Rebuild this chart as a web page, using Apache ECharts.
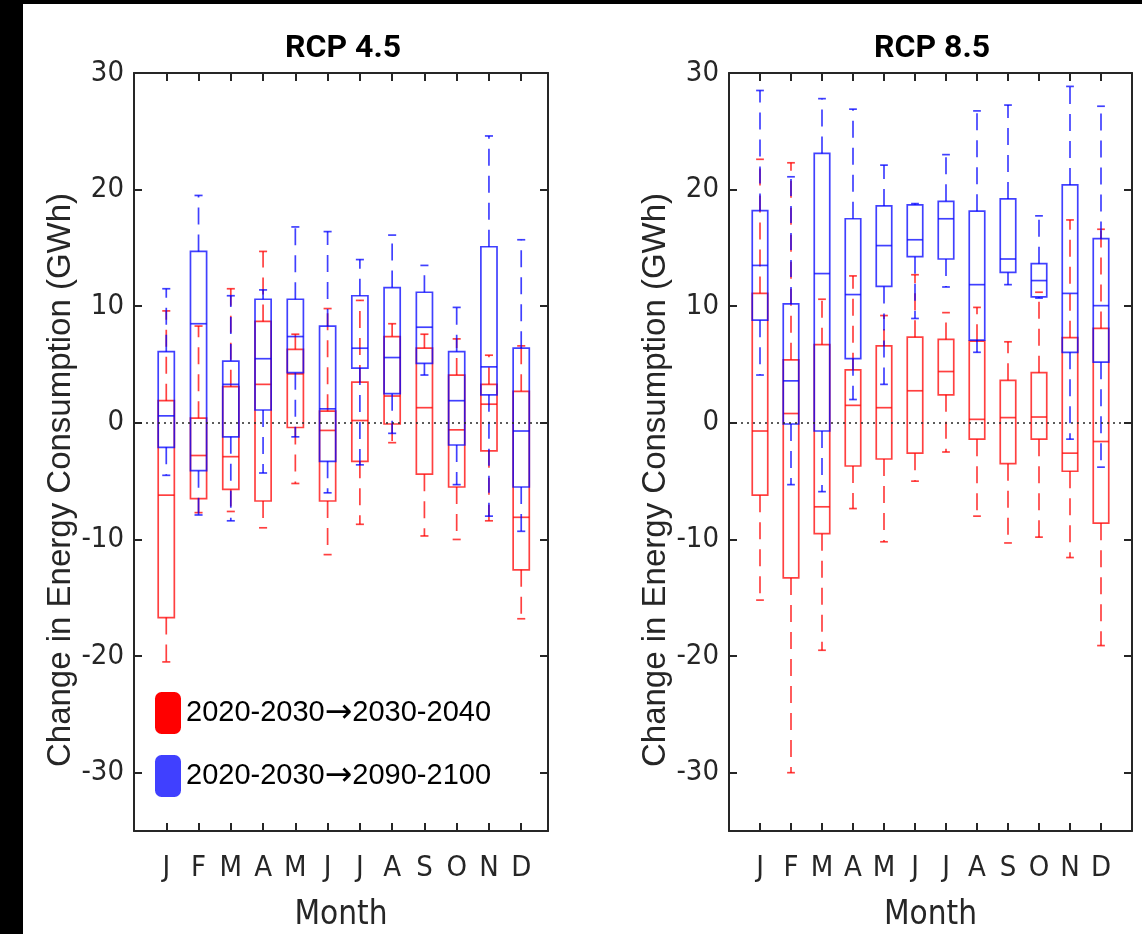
<!DOCTYPE html>
<html><head><meta charset="utf-8">
<script src="https://cdn.jsdelivr.net/npm/echarts@6/dist/echarts.min.js"></script>
<style>
html,body{margin:0;padding:0;background:#000;width:1142px;height:934px;overflow:hidden}
#c{position:absolute;left:23px;top:4px;width:1119px;height:930px;background:#fff}
</style></head><body><div id="c"></div>
<script>
// ---- data ----
const months = ['J','F','M','A','M','J','J','A','S','O','N','D'];
const monthPos = [1,2,3,4,5,6,7,8,9,10,11,12];
const yTicks = [-30,-20,-10,0,10,20,30];
const panelTitles = ['RCP 4.5','RCP 8.5'];
const seriesNames = ['2020-2030\u21922030-2040','2020-2030\u21922090-2100'];
// each entry: [lower whisker, Q1, median, Q3, upper whisker]
const rcp45Near = [
  [-20.5,-16.7,-6.2,1.9,9.6],[-7.7,-6.5,-2.8,0.4,8.3],[-7.6,-5.7,-2.9,3.1,11.5],
  [-9.0,-6.7,3.3,8.7,14.7],[-5.2,-0.4,4.2,6.3,7.6],[-11.3,-6.7,-0.65,1.0,9.8],
  [-8.7,-3.3,0.2,3.5,10.5],[-1.7,-0.1,2.3,7.4,8.5],[-9.7,-4.4,1.3,6.4,7.6],
  [-10.0,-5.5,-0.6,4.1,7.2],[-8.4,-2.4,1.6,3.3,5.8],[-16.8,-12.6,-8.1,2.7,6.6]
];
const rcp45Far = [
  [-4.5,-2.1,0.6,6.1,11.5],[-7.9,-4.1,8.5,14.7,19.5],[-8.4,-1.2,3.3,5.3,10.9],
  [-4.3,1.1,5.5,10.6,11.4],[-1.2,4.3,7.4,10.6,16.8],[-6.0,-3.3,1.2,8.3,16.4],
  [-3.6,4.7,6.4,10.9,14.0],[-0.9,2.5,5.6,11.6,16.1],[4.1,5.1,8.2,11.2,13.5],
  [-5.3,-1.9,1.9,6.1,9.9],[-8.0,2.4,4.8,15.1,24.6],[-9.3,-5.5,-0.7,6.4,15.7]
];
const rcp85Near = [
  [-15.2,-6.2,-0.7,11.1,22.6],[-30.0,-13.3,0.8,5.4,22.3],[-19.5,-9.5,-7.2,6.7,10.6],
  [-7.35,-3.7,1.5,4.55,12.6],[-10.2,-3.1,1.3,6.6,9.2],[-5.0,-2.6,2.75,7.35,12.7],
  [-2.5,2.4,4.4,7.15,9.45],[-8.0,-1.4,0.3,7.0,9.9],[-10.3,-3.5,0.45,3.65,6.95],
  [-9.8,-1.4,0.5,4.3,11.2],[-11.55,-4.15,-2.6,7.3,17.4],[-19.1,-8.6,-1.6,8.1,16.6]
];
const rcp85Far = [
  [4.1,8.8,13.5,18.2,28.5],[-5.3,-0.1,3.6,10.2,21.1],[-5.9,-0.7,12.8,23.1,27.8],
  [2.0,5.5,11.0,17.5,26.9],[3.3,11.7,15.2,18.6,22.1],[8.95,14.25,15.7,18.7,18.8],
  [11.65,14.05,17.5,19.0,23.0],[6.05,7.1,11.85,18.15,26.75],[11.85,12.9,14.05,19.2,27.25],
  [10.7,10.8,12.2,13.65,17.75],[-1.4,6.05,11.1,20.4,28.85],[-3.8,5.2,10.05,15.8,27.15]
];

// ---- styling ----
const NARROW = "'Liberation Sans Narrow','Arial Narrow','DejaVu Sans Condensed',sans-serif";
const SANS = "'Liberation Sans',Arial,sans-serif";
const AX = '#262626';
const RED = 'rgba(255,0,0,0.75)', BLUE = 'rgba(0,0,255,0.75)';
const BOX_W = 0.5, CAP_W = 0.25;
const grids = [
  {left:111, top:69, width:414, height:758, outerBoundsMode:'none', containLabel:false},
  {left:706, top:69, width:403, height:758, outerBoundsMode:'none', containLabel:false}
];
const xMax = [12.83, 13];

function renderBox(params, api) {
  const x = api.value(0);
  const pLo = api.coord([x, api.value(1)]);
  const pQ1 = api.coord([x, api.value(2)]);
  const pMd = api.coord([x, api.value(3)]);
  const pQ3 = api.coord([x, api.value(4)]);
  const pHi = api.coord([x, api.value(5)]);
  const half = api.size([BOX_W, 0])[0] / 2;
  const cap = api.size([CAP_W, 0])[0] / 2;
  const color = api.visual('color');
  const s = {stroke: color, lineWidth: 1.7, fill: null};
  const d = {stroke: color, lineWidth: 1.7, fill: null, lineDash: [17, 10]};
  const cx = pMd[0];
  return {type: 'group', children: [
    {type: 'line', shape: {x1: cx, y1: pQ3[1], x2: cx, y2: pHi[1]}, style: d},
    {type: 'line', shape: {x1: cx, y1: pQ1[1], x2: cx, y2: pLo[1]}, style: d},
    {type: 'line', shape: {x1: cx - cap, y1: pHi[1], x2: cx + cap, y2: pHi[1]}, style: s},
    {type: 'line', shape: {x1: cx - cap, y1: pLo[1], x2: cx + cap, y2: pLo[1]}, style: s},
    {type: 'rect', shape: {x: cx - half, y: pQ3[1], width: 2 * half, height: pQ1[1] - pQ3[1]}, style: s},
    {type: 'line', shape: {x1: cx - half, y1: pMd[1], x2: cx + half, y2: pMd[1]}, style: s}
  ]};
}

function toData(arr) { return arr.map((v, i) => [monthPos[i]].concat(v)); }

const xAxes = [], yAxes = [], series = [];
const panels = [[rcp45Near, rcp45Far], [rcp85Near, rcp85Far]];
const lineS = {color: AX, width: 2};
grids.forEach((g, gi) => {
  const tickBase = {show: true, inside: true, length: 8, lineStyle: {color: AX, width: 2}};
  xAxes.push({type: 'value', gridIndex: gi, min: 0, max: xMax[gi], position: 'bottom',
    axisLine: {show: true, onZero: false, lineStyle: lineS},
    axisTick: Object.assign({customValues: monthPos}, tickBase),
    axisLabel: {customValues: monthPos, formatter: v => months[v - 1] || '', margin: 23,
      fontFamily: NARROW, fontSize: 29, color: AX},
    splitLine: {show: false},
    name: 'Month', nameLocation: 'middle', nameGap: 68,
    nameTextStyle: {fontFamily: NARROW, fontSize: 33, color: AX}});
  xAxes.push({type: 'value', gridIndex: gi, min: 0, max: xMax[gi], position: 'top',
    axisLine: {show: true, onZero: false, lineStyle: lineS},
    axisTick: Object.assign({customValues: monthPos}, tickBase),
    axisLabel: {show: false}, splitLine: {show: false}});
  yAxes.push({type: 'value', gridIndex: gi, min: -35, max: 30, position: 'left',
    axisLine: {show: true, onZero: false, lineStyle: lineS},
    axisTick: Object.assign({customValues: yTicks}, tickBase),
    axisLabel: {customValues: yTicks, margin: 10, fontFamily: NARROW, fontSize: 29, color: AX},
    splitLine: {show: false},
    name: 'Change in Energy Consumption (GWh)', nameLocation: 'middle', nameGap: 53, nameRotate: 90,
    nameTextStyle: {fontFamily: SANS, fontSize: 33, color: AX, padding: [0, 56, 0, 0]}});
  yAxes.push({type: 'value', gridIndex: gi, min: -35, max: 30, position: 'right',
    axisLine: {show: true, onZero: false, lineStyle: lineS},
    axisTick: Object.assign({customValues: yTicks}, tickBase),
    axisLabel: {show: false}, splitLine: {show: false}});
  panels[gi].forEach((arr, si) => {
    const sr = {type: 'custom', name: seriesNames[si], xAxisIndex: gi * 2, yAxisIndex: gi * 2,
      itemStyle: {color: si === 0 ? RED : BLUE}, renderItem: renderBox, silent: true,
      encode: {x: 0, y: [1, 2, 3, 4, 5]}, data: toData(arr), z: 2 + si};
    if (si === 1) {
      sr.markLine = {silent: true, symbol: 'none', label: {show: false}, animation: false,
        lineStyle: {color: AX, type: [2, 4], width: 1.5}, data: [{yAxis: 0}]};
    }
    series.push(sr);
  });
});

const titleStyle = {fontFamily: "Roboto,'Liberation Sans',sans-serif", fontWeight: 'bold', fontSize: 32, color: '#000'};
const chart = echarts.init(document.getElementById('c'), null, {renderer: 'canvas'});
chart.setOption({
  animation: false,
  backgroundColor: '#fff',
  title: [
    {text: panelTitles[0], left: 262, top: 29, padding: 0, textStyle: titleStyle},
    {text: panelTitles[1], left: 851, top: 29, padding: 0, textStyle: titleStyle}
  ],
  legend: {orient: 'vertical', left: 132, top: 688, padding: 0, itemWidth: 26, itemHeight: 42,
    itemGap: 21, icon: 'roundRect', selectedMode: false,
    formatter: n => n.replace('\u2192', '{a|\u2192}'),
    textStyle: {fontFamily: SANS, fontSize: 29, color: '#000',
      rich: {a: {fontFamily: "'DejaVu Sans',sans-serif", fontSize: 33, color: '#000'}}},
    data: [{name: seriesNames[0], itemStyle: {color: '#ff0000'}},
           {name: seriesNames[1], itemStyle: {color: '#4040ff'}}]},
  grid: grids,
  xAxis: xAxes,
  yAxis: yAxes,
  series: series
});
</script></body></html>
